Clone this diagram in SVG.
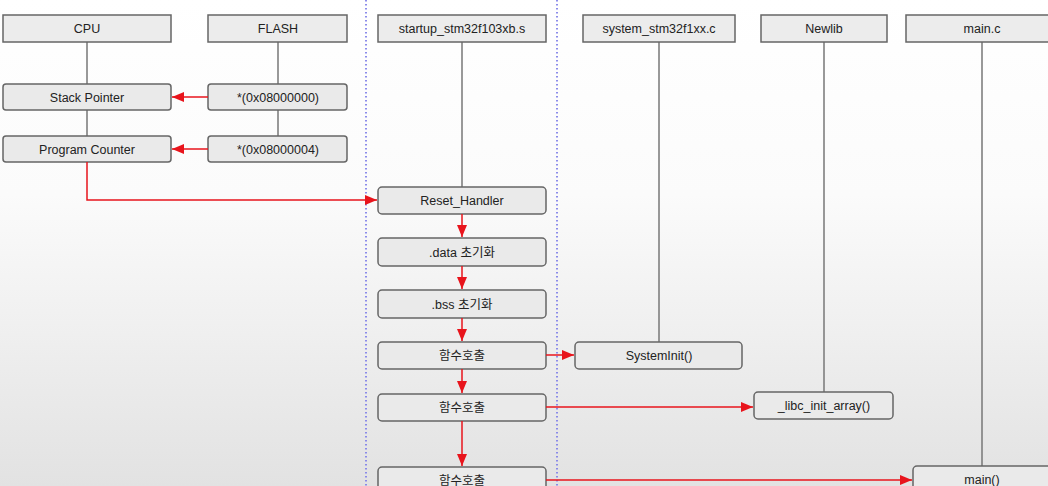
<svg xmlns="http://www.w3.org/2000/svg" width="1048" height="486" viewBox="0 0 1048 486">
<defs>
<linearGradient id="bg" x1="0" y1="0" x2="0" y2="1">
<stop offset="0" stop-color="#ffffff"/>
<stop offset="0.4" stop-color="#fbfbfb"/>
<stop offset="1" stop-color="#e2e2e2"/>
</linearGradient>
<marker id="ah" viewBox="0 0 12 10" refX="12" refY="5" markerWidth="12" markerHeight="10" markerUnits="userSpaceOnUse" orient="auto">
<path d="M0,0 L12,5 L0,10 Z" fill="#e8141c"/>
</marker>
<style>
.hd{fill:#ececec;stroke:#666;stroke-width:1.5}
.bx{fill:#eaeaea;stroke:#666;stroke-width:1.5}
.t{font-family:"Liberation Sans",Arial,"Noto Sans CJK KR",sans-serif;font-size:12.5px;fill:#222;text-anchor:middle}
.ll{stroke:#777;stroke-width:1.5;fill:none}
.r{stroke:#e8141c;stroke-width:1.5;fill:none;marker-end:url(#ah)}
.dot{stroke:#8080e8;stroke-width:1.8;stroke-dasharray:1.5 2.5;fill:none}
</style>
</defs>
<rect width="1048" height="486" fill="url(#bg)"/>
<g id="lifelines">
<line class="ll" x1="87" y1="42" x2="87" y2="136"/>
<line class="ll" x1="278" y1="42" x2="278" y2="136"/>
<line class="ll" x1="462" y1="42" x2="462" y2="187"/>
<line class="ll" x1="659" y1="42" x2="659" y2="342"/>
<line class="ll" x1="824" y1="42" x2="824" y2="392"/>
<line class="ll" x1="982" y1="42" x2="982" y2="466"/>
</g>
<g id="separators">
<line class="dot" x1="366" y1="0" x2="366" y2="486"/>
<line class="dot" x1="557" y1="0" x2="557" y2="486"/>
</g>
<g id="cpu"><rect class="hd" x="3" y="15" width="168" height="27"/><text class="t" x="87" y="33">CPU</text></g>
<g id="flash"><rect class="hd" x="208" y="15" width="139" height="27"/><text class="t" x="278" y="33">FLASH</text></g>
<g id="startup"><rect class="hd" x="378" y="15" width="168" height="27"/><text class="t" x="462" y="33">startup_stm32f103xb.s</text></g>
<g id="system"><rect class="hd" x="583" y="15" width="152" height="27"/><text class="t" x="659" y="33">system_stm32f1xx.c</text></g>
<g id="newlib"><rect class="hd" x="761" y="15" width="126" height="27"/><text class="t" x="824" y="33">Newlib</text></g>
<g id="mainc"><rect class="hd" x="906" y="15" width="150" height="27"/><text class="t" x="982" y="33">main.c</text></g>
<g id="sp"><rect class="bx" x="3" y="84" width="168" height="26" rx="3"/><text class="t" x="87" y="102">Stack Pointer</text></g>
<g id="addr0"><rect class="bx" x="208" y="84" width="139" height="26" rx="3"/><text class="t" x="278" y="102">*(0x08000000)</text></g>
<g id="pc"><rect class="bx" x="3" y="136" width="168" height="26" rx="3"/><text class="t" x="87" y="154">Program Counter</text></g>
<g id="addr4"><rect class="bx" x="208" y="136" width="139" height="26" rx="3"/><text class="t" x="278" y="154">*(0x08000004)</text></g>
<g id="reset"><rect class="bx" x="378" y="187" width="168" height="27" rx="4"/><text class="t" x="462" y="205">Reset_Handler</text></g>
<g id="data"><rect class="bx" x="378" y="238" width="168" height="28" rx="4"/><text class="t" x="462" y="257">.data 초기화</text></g>
<g id="bss"><rect class="bx" x="378" y="290" width="168" height="28" rx="4"/><text class="t" x="462" y="309">.bss 초기화</text></g>
<g id="call1"><rect class="bx" x="378" y="342" width="168" height="27" rx="4"/><text class="t" x="462" y="360">함수호출</text></g>
<g id="call2"><rect class="bx" x="378" y="394" width="168" height="27" rx="4"/><text class="t" x="462" y="412">함수호출</text></g>
<g id="call3"><rect class="bx" x="378" y="467" width="168" height="27" rx="4"/><text class="t" x="462" y="485">함수호출</text></g>
<g id="sysinit"><rect class="bx" x="575" y="342" width="167" height="27" rx="4"/><text class="t" x="659" y="360">SystemInit()</text></g>
<g id="libc"><rect class="bx" x="754" y="392" width="139" height="27" rx="4"/><text class="t" x="824" y="410">_libc_init_array()</text></g>
<g id="main"><rect class="bx" x="913" y="466" width="150" height="27" rx="4"/><text class="t" x="982" y="484">main()</text></g>
<g id="connectors">
<line class="r" x1="208" y1="97" x2="172" y2="97"/>
<line class="r" x1="208" y1="149" x2="172" y2="149"/>
<polyline class="r" points="87,162 87,200 377,200"/>
<line class="r" x1="462" y1="214" x2="462" y2="237"/>
<line class="r" x1="462" y1="266" x2="462" y2="289"/>
<line class="r" x1="462" y1="318" x2="462" y2="341"/>
<line class="r" x1="462" y1="369" x2="462" y2="393"/>
<line class="r" x1="462" y1="421" x2="462" y2="466"/>
<line class="r" x1="546" y1="355" x2="574" y2="355"/>
<line class="r" x1="546" y1="407" x2="753" y2="407"/>
<line class="r" x1="546" y1="480" x2="912" y2="480"/>
</g>
</svg>
